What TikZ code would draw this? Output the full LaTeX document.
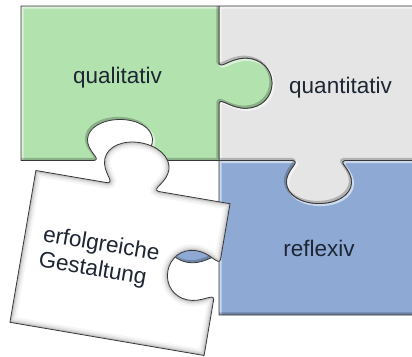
\documentclass[tikz,border=0pt]{standalone}
\usepackage{fontspec}
\setmainfont{Liberation Sans}

\definecolor{pzgreen}{RGB}{178,226,174}
\definecolor{pzgrey}{RGB}{229,229,229}
\definecolor{pzblue}{RGB}{142,169,212}
\definecolor{pzink}{RGB}{30,38,52}

% one point of a tab, in the frame of its edge:
% #1,#2 centre of the edge, #3,#4 direction of travel, #5,#6 direction of the knob,
% #7 offset along the edge, #8 offset towards the knob
\newcommand\tabpt[8]{({#1+(#7)*(#3)+(#8)*(#5)},{#2+(#7)*(#4)+(#8)*(#6)})}
% a tab (or a socket, when the knob points into the piece):
% #7 half width of the knob, #8 depth of the knob
\newcommand\tabseg[8]{%
  -- \tabpt{#1}{#2}{#3}{#4}{#5}{#6}{-0.80*#7}{0}
  .. controls \tabpt{#1}{#2}{#3}{#4}{#5}{#6}{-0.55*#7}{0.03*#8}
  and \tabpt{#1}{#2}{#3}{#4}{#5}{#6}{-1.02*#7}{0.22*#8}
  .. \tabpt{#1}{#2}{#3}{#4}{#5}{#6}{-#7}{0.52*#8}
  .. controls \tabpt{#1}{#2}{#3}{#4}{#5}{#6}{-0.98*#7}{0.80*#8}
  and \tabpt{#1}{#2}{#3}{#4}{#5}{#6}{-0.55*#7}{#8}
  .. \tabpt{#1}{#2}{#3}{#4}{#5}{#6}{0}{#8}
  .. controls \tabpt{#1}{#2}{#3}{#4}{#5}{#6}{0.55*#7}{#8}
  and \tabpt{#1}{#2}{#3}{#4}{#5}{#6}{0.98*#7}{0.80*#8}
  .. \tabpt{#1}{#2}{#3}{#4}{#5}{#6}{#7}{0.52*#8}
  .. controls \tabpt{#1}{#2}{#3}{#4}{#5}{#6}{1.02*#7}{0.22*#8}
  and \tabpt{#1}{#2}{#3}{#4}{#5}{#6}{0.55*#7}{0.03*#8}
  .. \tabpt{#1}{#2}{#3}{#4}{#5}{#6}{0.80*#7}{0}}

% outlines of the four pieces (x to the right, y downwards)
\edef\greenpath{(21,6) -- (219,6)
  \tabseg{219}{83.25}{0}{1}{1}{0}{25}{53}
  -- (219,160.5)
  \tabseg{120}{160.5}{-1}{0}{0}{-1}{32.5}{41}
  -- (21,160.5) -- cycle}
\edef\greypath{(219,6) -- (425,6) -- (425,160.5)
  \tabseg{319}{160.5}{-1}{0}{0}{1}{32.5}{43}
  -- (219,160.5)
  \tabseg{219}{83.25}{0}{-1}{1}{0}{25}{53}
  -- cycle}
\edef\bluepath{(219,160.5)
  \tabseg{319}{160.5}{1}{0}{0}{1}{32.5}{43}
  -- (425,160.5) -- (425,315) -- (219,315)
  \tabseg{219}{237.75}{0}{-1}{-1}{0}{25}{53}
  -- cycle}
% the loose piece, centred on the origin before it is turned
\edef\whitepath{(-98.5,-77)
  \tabseg{0}{-77}{1}{0}{0}{-1}{32.5}{45}
  -- (98.5,-77)
  \tabseg{98.5}{0}{0}{1}{-1}{0}{25}{50}
  -- (98.5,77) -- (-98.5,77) -- cycle}

% a coloured piece with a light upper rim and a dark lower rim
\newcommand\colourpiece[2]{%
  \fill[#2] #1;
  \begin{scope}
    \clip #1;
    \draw[white, opacity=.55, line width=2.6pt, shift={(1.3,1.3)}] #1;
    \draw[black, opacity=.22, line width=2.6pt, shift={(-1.3,-1.3)}] #1;
  \end{scope}
  \draw[outline] #1;
}

\begin{document}
\begin{tikzpicture}[x=1pt, y=-1pt,
  outline/.style={draw=black!78, line width=0.8pt, line join=round},
  lbl/.style={text=pzink, font=\fontsize{22.5}{26}\selectfont, inner sep=0pt}]
\useasboundingbox (0,0) rectangle (412,356);
\fill[white] (0,0) rectangle (412,356);
\clip (0,0) rectangle (412,356);

\colourpiece{\bluepath}{pzblue}
\colourpiece{\greypath}{pzgrey}
\colourpiece{\greenpath}{pzgreen}

\node[lbl] (qual) at (117.5,78) {qualitativ};
\node[lbl] (quant) at (340.5,88) {quantitativ};
\node[lbl] (refl) at (319,248.5) {reflexiv};

% the loose white piece, turned clockwise
\begin{scope}[shift={(120,263)}, rotate=-9.7]
  \fill[white] \whitepath;
  \begin{scope}
    \clip \whitepath;
    \foreach \w/\o in {12/.04, 8/.05, 5/.07, 2.5/.1}
      \draw[black, opacity=\o, line width=\w pt] \whitepath;
  \end{scope}
  \draw[outline] \whitepath;
\end{scope}

\node[lbl, rotate=-9.7, align=left] (gest) at (99,258) {erfolgreiche\\Gestaltung};
\end{tikzpicture}
\end{document}
